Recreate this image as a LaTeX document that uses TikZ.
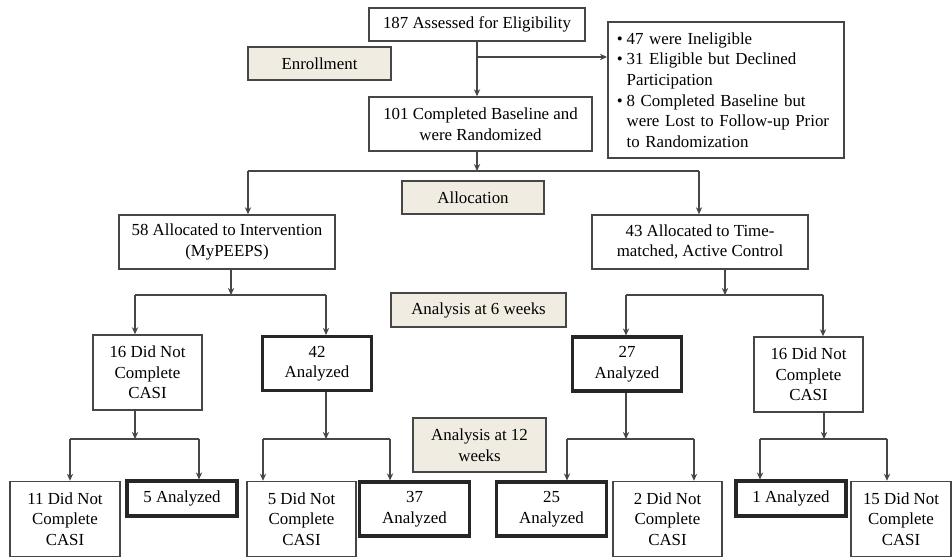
\documentclass[tikz,border=0pt]{standalone}
\usepackage{fontspec}
\setmainfont{Liberation Serif}
\usetikzlibrary{shapes,arrows,arrows.meta,positioning,calc}
\definecolor{boxline}{RGB}{70,70,70}
\definecolor{stagefill}{RGB}{240,236,226}
\newcommand{\bulletitem}{\makebox[7pt][l]{\textbullet}}
\newcommand{\bulletgap}{\hspace*{7pt}}

\begin{document}
\begin{tikzpicture}[x=0.025cm, y=-0.025cm,
    >={Stealth[length=5pt,width=4.5pt]},
    font=\fontsize{12}{14.6}\selectfont,
    box/.style={draw=boxline, line width=1.1pt, fill=white, text=black, align=center, inner sep=2pt, minimum width=2.725cm, minimum height=1.35cm},
    keybox/.style={box, line width=2.2pt, draw=black!85},
    stage/.style={box, fill=stagefill, minimum height=0.85cm},
    link/.style={line width=0.9pt, draw=boxline}]
  \useasboundingbox (0,0) rectangle (952,558);

  % enrollment
  \node[box, minimum width=5.4cm, minimum height=0.825cm] (assessed) at (477,24.5) {187 Assessed for Eligibility};
  \node[stage, minimum width=3.575cm, minimum height=0.825cm] (enroll) at (319.5,63.5) {Enrollment};
  \node[box, anchor=west, text width=5.45cm, inner xsep=0.225cm, minimum height=3.4cm, align=left] (excluded) at (607,90)
    {\bulletitem 47 were Ineligible\\
     \bulletitem 31 Eligible but Declined\\
     \bulletgap Participation\\
     \bulletitem 8 Completed Baseline but\\
     \bulletgap were Lost to Follow-up Prior\\
     \bulletgap to Randomization};
  \node[box, minimum width=5.575cm] (baseline) at (480.5,124) {101 Completed Baseline and\\were Randomized};

  % allocation
  \node[stage, minimum width=3.55cm, minimum height=0.825cm] (alloc) at (473,197.5) {Allocation};
  \node[box, minimum width=5.4cm] (interv) at (227,242) {58 Allocated to Intervention\\(MyPEEPS)};
  \node[box, minimum width=5.4cm] (control) at (700,242) {43 Allocated to Time-\\matched, Active Control};

  % 6 weeks
  \node[stage, minimum width=4.375cm] (sixwk) at (478.5,310) {Analysis at 6 weeks};
  \node[box, minimum height=1.875cm] (intmiss) at (147.5,372.5) {16 Did Not\\Complete\\CASI};
  \node[keybox] (intdone) at (317,363.5) {42\\Analyzed};
  \node[keybox] (ctldone) at (627,364) {27\\Analyzed};
  \node[box, minimum height=1.875cm] (ctlmiss) at (808.5,374.5) {16 Did Not\\Complete\\CASI};

  % 12 weeks
  \node[stage, minimum width=3.325cm, minimum height=1.35cm] (twelvewk) at (479.5,445) {Analysis at 12\\weeks};
  \node[box, minimum width=2.75cm, minimum height=1.875cm] (intmissmiss) at (65,519) {11 Did Not\\Complete\\CASI};
  \node[keybox, minimum width=2.75cm, minimum height=0.875cm] (intmissdone) at (182,498.5) {5 Analyzed};
  \node[box, minimum height=1.875cm] (intdonemiss) at (301.5,519) {5 Did Not\\Complete\\CASI};
  \node[keybox, minimum width=2.75cm] (intdonedone) at (414.5,509) {37\\Analyzed};
  \node[keybox, minimum width=2.75cm] (ctldonedone) at (551.5,509) {25\\Analyzed};
  \node[box, minimum height=1.875cm] (ctldonemiss) at (667.5,519) {2 Did Not\\Complete\\CASI};
  \node[keybox, minimum width=2.75cm, minimum height=0.875cm] (ctlmissdone) at (791,498.5) {1 Analyzed};
  \node[box, minimum width=2.5cm, minimum height=1.875cm] (ctlmissmiss) at (901,519) {15 Did Not\\Complete\\CASI};

  % junctions
  \coordinate (j1) at (477,57);
  \coordinate (j2) at (477,171);  \coordinate (j2l) at (248,171); \coordinate (j2r) at (699,171);
  \coordinate (j3) at (231,295);  \coordinate (j3l) at (135,295); \coordinate (j3r) at (326,295);
  \coordinate (j4) at (725,295);  \coordinate (j4l) at (626,295); \coordinate (j4r) at (823,295);
  \coordinate (j5) at (135,439);  \coordinate (j5l) at (70,439);  \coordinate (j5r) at (199,439);
  \coordinate (j6) at (326,439);  \coordinate (j6l) at (263,439); \coordinate (j6r) at (390,439);
  \coordinate (j7) at (626,439);  \coordinate (j7l) at (567,439); \coordinate (j7r) at (694,439);
  \coordinate (j8) at (824,439);  \coordinate (j8l) at (760,439); \coordinate (j8r) at (887,439);

  % connectors
  \draw[link, ->] (assessed.south) -- (assessed.south |- baseline.north);
  \draw[link, ->] (j1) -- (j1 -| excluded.west);

  \draw[link, ->] (baseline.south -| j2) -- (j2);
  \draw[link] (j2l) -- (j2r);
  \draw[link, ->] (j2l) -- (j2l |- interv.north);
  \draw[link, ->] (j2r) -- (j2r |- control.north);

  \draw[link, ->] (interv.south -| j3) -- (j3);
  \draw[link] (j3l) -- (j3r);
  \draw[link, ->] (j3l) -- (j3l |- intmiss.north);
  \draw[link, ->] (j3r) -- (j3r |- intdone.north);

  \draw[link, ->] (control.south -| j4) -- (j4);
  \draw[link] (j4l) -- (j4r);
  \draw[link, ->] (j4l) -- (j4l |- ctldone.north);
  \draw[link, ->] (j4r) -- (j4r |- ctlmiss.north);

  \draw[link, ->] (intmiss.south -| j5) -- (j5);
  \draw[link] (j5l) -- (j5r);
  \draw[link, ->] (j5l) -- (j5l |- intmissmiss.north);
  \draw[link, ->] (j5r) -- (j5r |- intmissdone.north);

  \draw[link, ->] (intdone.south -| j6) -- (j6);
  \draw[link] (j6l) -- (j6r);
  \draw[link, ->] (j6l) -- (j6l |- intdonemiss.north);
  \draw[link, ->] (j6r) -- (j6r |- intdonedone.north);

  \draw[link, ->] (ctldone.south -| j7) -- (j7);
  \draw[link] (j7l) -- (j7r);
  \draw[link, ->] (j7l) -- (j7l |- ctldonedone.north);
  \draw[link, ->] (j7r) -- (j7r |- ctldonemiss.north);

  \draw[link, ->] (ctlmiss.south -| j8) -- (j8);
  \draw[link] (j8l) -- (j8r);
  \draw[link, ->] (j8l) -- (j8l |- ctlmissdone.north);
  \draw[link, ->] (j8r) -- (j8r |- ctlmissmiss.north);
\end{tikzpicture}
\end{document}
